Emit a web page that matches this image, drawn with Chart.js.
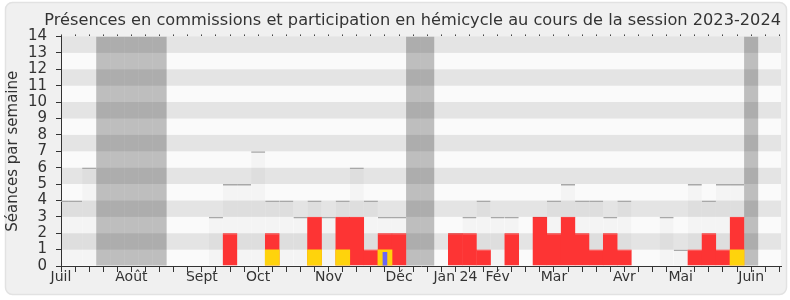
<!DOCTYPE html>
<html>
<head>
<meta charset="utf-8">
<script src="https://cdn.jsdelivr.net/npm/chart.js@4/dist/chart.umd.min.js"></script>
<style>
  html, body { margin: 0; padding: 0; background: #fff; }
</style>
</head>
<body>
<canvas id="presenceChart" width="790" height="300"></canvas>
<script>
// one value per week, week 0 = first week of July 2023
const presences  = [4,4,6,0,0,0,0,0,0,0,0,3,5,5,7,4,4,3,4,3,4,6,4,3,3,0,0,0,2,3,4,3,3,0,3,4,5,4,4,3,4,0,0,3,1,5,4,5,5,0,0,0];
const commission = [0,0,0,0,0,0,0,0,0,0,0,0,2,0,0,2,0,0,3,0,3,3,1,2,2,0,0,0,2,2,1,0,2,0,3,2,3,2,1,2,1,0,0,0,0,1,2,1,3,0,0,0];
const hemicycle  = [0,0,0,0,0,0,0,0,0,0,0,0,0,0,0,1,0,0,1,0,1,0,0,1,0,0,0,0,0,0,0,0,0,0,0,0,0,0,0,0,0,0,0,0,0,0,0,0,1,0,0,0];
const questions  = [0,0,0,0,0,0,0,0,0,0,0,0,0,0,0,0,0,0,0,0,0,0,0,0.85,0,0,0,0,0,0,0,0,0,0,0,0,0,0,0,0,0,0,0,0,0,0,0,0,0,0,0,0];
const vacances   = [0,0,0,14,14,14,14,14,0,0,0,0,0,0,0,0,0,0,0,0,0,0,0,0,0,14,14,0,0,0,0,0,0,0,0,0,0,0,0,0,0,0,0,0,0,0,0,0,0,14,0,0];

// month labels and the week they sit on
const monthWeeks  = [0, 5, 10, 14, 19, 24, 28, 31, 35, 40, 44, 49];
const monthLabels = ['Juil', 'Août', 'Sept', 'Oct', 'Nov', 'Déc', 'Jan 24', 'Fév', 'Mar', 'Avr', 'Mai', 'Juin'];

const yMax = 14;
const font = 'DejaVu Sans';

// turn a weekly list into {x, y} points, skipping empty weeks
function toPoints (list) {
    return list.map(function (v, i) { return { x: i, y: v > 0 ? v : null }; });
}

// outer rounded box + horizontal stripes behind the bars
const backgroundPlugin = {
    id: 'background',
    beforeDraw: function (chart) {
        const ctx = chart.ctx;
        const area = chart.chartArea;
        const y = chart.scales.y;
        ctx.save();
        ctx.fillStyle = '#ffffff';
        ctx.fillRect(0, 0, chart.width, chart.height);
        ctx.beginPath();
        ctx.roundRect(5.5, 2.5, 781, 292, 7);
        ctx.fillStyle = '#f0f0f0';
        ctx.fill();
        ctx.strokeStyle = '#e2e2e2';
        ctx.lineWidth = 1.5;
        ctx.stroke();
        for (let k = 0; k < yMax; k++) {
            const top = y.getPixelForValue(k + 1);
            const bottom = y.getPixelForValue(k);
            ctx.fillStyle = k % 2 === 0 ? '#fafafa' : '#e4e4e4';
            ctx.fillRect(area.left, top, area.right - area.left, bottom - top);
        }
        ctx.restore();
    }
};

const barBase = {
    type: 'bar',
    grouped: false,
    barPercentage: 1,
    categoryPercentage: 1,
    borderSkipped: false,
    inflateAmount: 0,
    clip: 0
};

const data = {
    datasets: [
        Object.assign({}, barBase, {
            label: 'Questions',
            data: toPoints(questions),
            backgroundColor: '#6b66f5',
            barPercentage: 0.33,
            borderWidth: 0,
            order: 1
        }),
        Object.assign({}, barBase, {
            label: 'Participation en hémicycle',
            data: toPoints(hemicycle),
            backgroundColor: '#ffd30c',
            borderWidth: 0,
            barPercentage: 1.05,
            order: 2
        }),
        Object.assign({}, barBase, {
            label: 'Présences en commission',
            data: toPoints(commission),
            backgroundColor: '#fd3434',
            borderColor: '#ff1010',
            borderWidth: { top: 1, left: 0, right: 0, bottom: 0 },
            barPercentage: 1.05,
            order: 3
        }),
        Object.assign({}, barBase, {
            label: 'Présences',
            data: toPoints(presences),
            backgroundColor: 'rgba(0,0,0,0.022)',
            borderColor: '#a8a8a8',
            borderWidth: { top: 1.5, left: 0, right: 0, bottom: 0 },
            order: 4
        }),
        Object.assign({}, barBase, {
            label: 'Vacances',
            data: toPoints(vacances),
            backgroundColor: 'rgba(0,0,0,0.24)',
            borderWidth: 0,
            order: 5
        })
    ]
};

const config = {
    type: 'bar',
    data: data,
    options: {
        responsive: false,
        devicePixelRatio: 1,
        animation: false,
        layout: { padding: { left: 0, right: 9, top: 0, bottom: 0 } },
        plugins: {
            legend: { display: false },
            tooltip: { enabled: false },
            title: {
                display: true,
                align: 'end',
                text: 'Présences en commissions et participation en hémicycle au cours de la session 2023-2024',
                color: '#333333',
                font: { family: font, size: 16.2, weight: 'normal' },
                padding: { top: 11, bottom: 2 }
            }
        },
        scales: {
            x: {
                type: 'linear',
                position: 'bottom',
                offset: false,
                min: 0,
                max: 51.12,
                z: 1,
                border: { display: true, color: '#333333', width: 1 },
                grid: { drawOnChartArea: false, tickLength: 6, color: '#333333', offset: false },
                ticks: {
                    stepSize: 1,
                    autoSkip: false,
                    includeBounds: false,
                    maxRotation: 0,
                    padding: -3,
                    color: '#333333',
                    font: { family: font, size: 14 },
                    callback: function (v) {
                        const i = monthWeeks.indexOf(v);
                        return i >= 0 ? monthLabels[i] : '';
                    }
                },
                afterFit: function (scale) { scale.height = 34; }
            },
            xTop: {
                type: 'linear',
                position: 'top',
                offset: false,
                min: 0,
                max: 51.12,
                border: { display: false },
                grid: { drawOnChartArea: false, tickLength: 2, color: '#444444', offset: false },
                ticks: { stepSize: 1, autoSkip: false, includeBounds: false, display: false },
                afterFit: function (scale) { scale.height = 4; }
            },
            y: {
                min: 0,
                max: yMax,
                z: 1,
                border: { display: true, color: '#333333', width: 1 },
                grid: { drawOnChartArea: false, tickLength: 5, color: '#333333' },
                ticks: {
                    stepSize: 1,
                    autoSkip: false,
                    padding: 9,
                    color: '#333333',
                    font: { family: font, size: 15 }
                },
                title: {
                    display: true,
                    text: 'Séances par semaine',
                    color: '#333333',
                    font: { family: font, size: 15 },
                    padding: { top: 4, bottom: 0 }
                },
                afterFit: function (scale) { scale.width = 61; }
            }
        }
    },
    plugins: [backgroundPlugin]
};

const myChart = new Chart(document.getElementById('presenceChart'), config);
</script>
</body>
</html>
